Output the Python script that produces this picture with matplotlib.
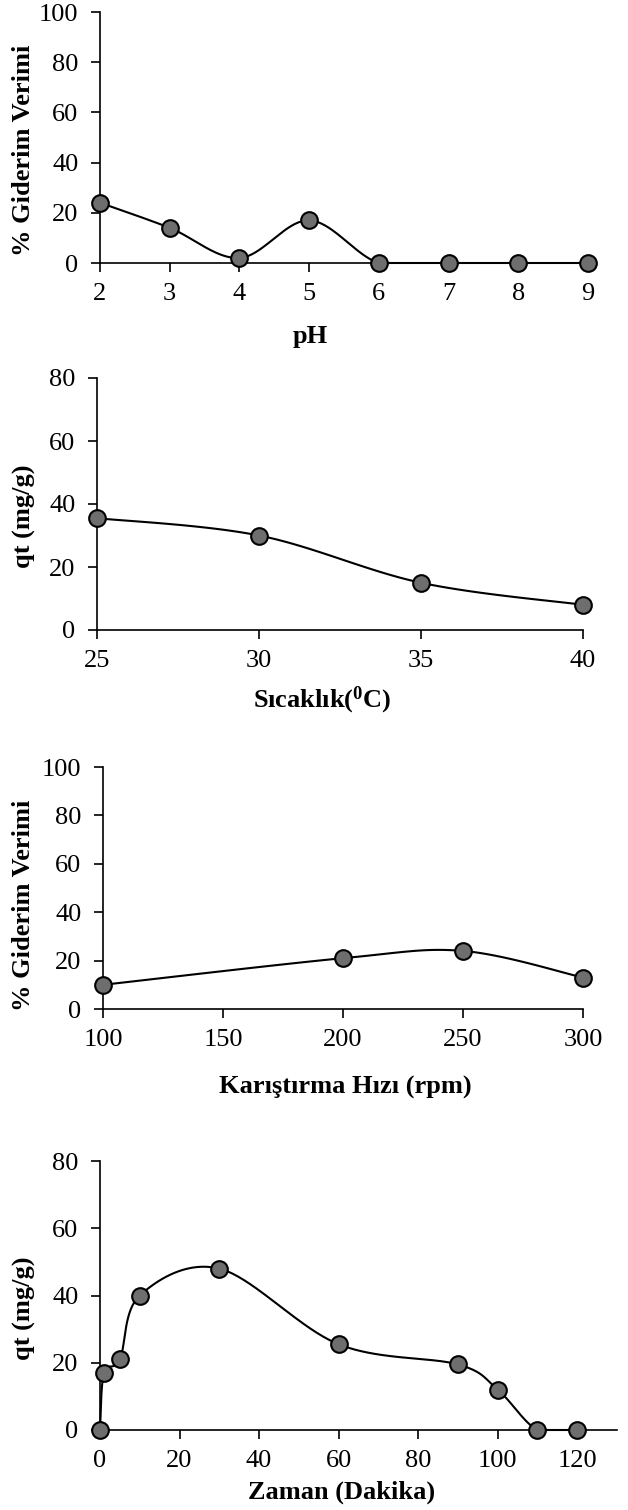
import numpy as np
import matplotlib
matplotlib.use("Agg")
import matplotlib.pyplot as plt

plt.rcParams['font.family'] = ['Liberation Serif', 'DejaVu Serif']
plt.rcParams['mathtext.fontset'] = 'custom'
plt.rcParams['mathtext.rm'] = 'Liberation Serif'
plt.rcParams['mathtext.bf'] = 'Liberation Serif:bold'

# --- data ---
ph = [2, 3, 4, 5, 6, 7, 8, 9]
ph_eff = [24, 14, 2, 17, 0, 0, 0, 0]

temp = [25, 30, 35, 40]
temp_qt = [35.5, 30, 15, 8]

rpm = [100, 200, 250, 300]
rpm_eff = [10, 21, 24, 13]

time_min = [0, 1, 5, 10, 30, 60, 90, 100, 110, 120]
time_qt = [0, 17, 21, 40, 48, 25.5, 19.5, 12, 0, 0]

W, H = 628, 1510
fig = plt.figure(figsize=(W / 100, H / 100), dpi=100)


def smooth(x, y, xlim, ylim, w, h, n=40):
    # Excel-like smoothed line (bezier through points), done in pixel space
    P = np.column_stack([(np.asarray(x, float) - xlim[0]) / (xlim[1] - xlim[0]) * w,
                         (np.asarray(y, float) - ylim[0]) / (ylim[1] - ylim[0]) * h])
    out = []
    t = np.linspace(0, 1, n)[:, None]
    for i in range(len(P) - 1):
        p0 = P[i - 1] if i > 0 else P[i]
        p3 = P[i + 2] if i + 2 < len(P) else P[i + 1]
        c1 = P[i] + (P[i + 1] - p0) / 6
        c2 = P[i + 1] - (p3 - P[i]) / 6
        if P[i, 1] == P[i + 1, 1]:
            # keep flat runs flat, no dip
            c1[1] = c2[1] = P[i, 1]
        seg = ((1 - t) ** 3) * P[i] + 3 * ((1 - t) ** 2) * t * c1 \
            + 3 * (1 - t) * t ** 2 * c2 + t ** 3 * P[i + 1]
        out.append(seg)
    S = np.vstack(out)
    sx = S[:, 0] / w * (xlim[1] - xlim[0]) + xlim[0]
    sy = S[:, 1] / h * (ylim[1] - ylim[0]) + ylim[0]
    return sx, sy


def panel(box, x, y, xlim, ylim, xticks, yticks, xlabel, ylabel, xl_pos, yl_pos):
    left, top, right, bottom = box
    w, h = right - left, bottom - top
    ax = fig.add_axes([left / W, 1 - bottom / H, w / W, h / H])
    sx, sy = smooth(x, y, xlim, ylim, w, h)
    ax.plot(sx, sy, color='black', lw=1.5, clip_on=False, zorder=2)
    ax.plot(x, y, 'o', ms=12, mfc='#6e6e6e', mec='black', mew=1.5,
            clip_on=False, zorder=3)
    ax.set_xlim(*xlim)
    ax.set_ylim(*ylim)
    ax.set_xticks(xticks)
    ax.set_yticks(yticks)
    for s in ['top', 'right']:
        ax.spines[s].set_visible(False)
    for s in ['left', 'bottom']:
        ax.spines[s].set_linewidth(1.2)
    ax.tick_params(axis='both', labelsize=19, width=1.2, length=6.5,
                   direction='out', color='black')
    ax.tick_params(axis='y', pad=9)
    ax.tick_params(axis='x', pad=8)
    fig.text(xl_pos[0] / W, 1 - xl_pos[1] / H, xlabel, ha='center', va='center',
             fontsize=19, fontweight='bold')
    fig.text(yl_pos[0] / W, 1 - yl_pos[1] / H, ylabel, ha='center', va='center',
             fontsize=19, fontweight='bold', rotation=90)
    return ax


panel((100, 12, 588, 263), ph, ph_eff, (2, 9), (0, 100),
      ph, range(0, 101, 20), 'pH', '% Giderim Verimi', (310, 336), (24, 150))

panel((97, 378, 583, 630), temp, temp_qt, (25, 40), (0, 80),
      temp, range(0, 81, 20), r'Sıcaklık($\mathbf{^{0}}$C)', 'qt (mg/g)',
      (322, 700), (24, 516))

panel((103, 767, 583, 1009), rpm, rpm_eff, (100, 300), (0, 100),
      range(100, 301, 50), range(0, 101, 20), 'Karıştırma Hızı (rpm)',
      '% Giderim Verimi', (345, 1087), (24, 905))

panel((100, 1161, 617, 1430), time_min, time_qt, (0, 130), (0, 80),
      range(0, 121, 20), range(0, 81, 20), 'Zaman (Dakika)', 'qt (mg/g)',
      (342, 1492), (24, 1308))

fig.savefig('out.png', dpi=100)
